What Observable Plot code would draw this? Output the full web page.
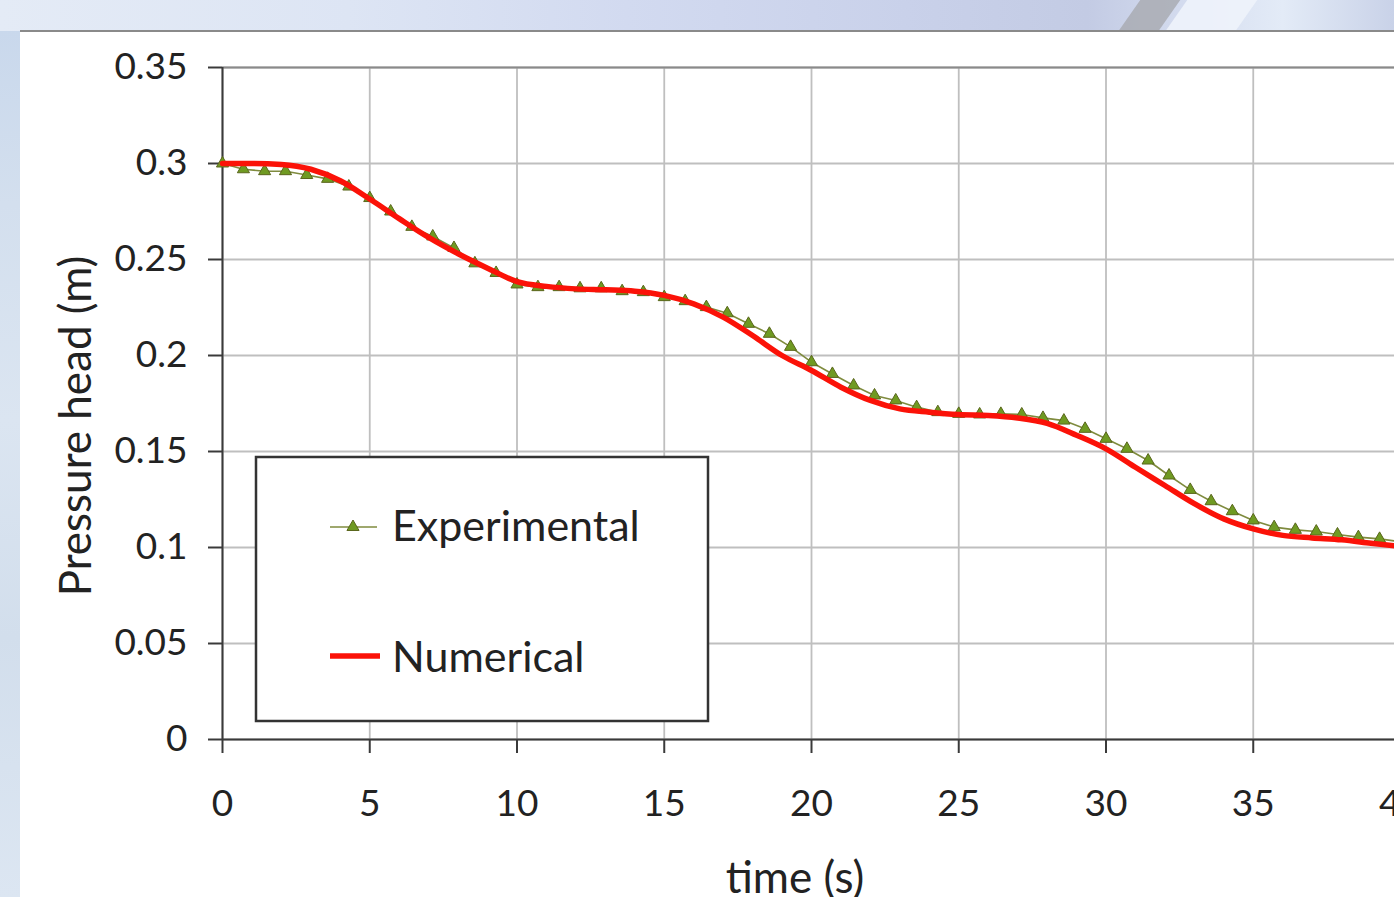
<!DOCTYPE html>
<html>
<head>
<meta charset="utf-8">
<script src="https://cdn.jsdelivr.net/npm/d3@7"></script>
<script src="https://cdn.jsdelivr.net/npm/@observablehq/plot@0.6"></script>
<style>
  html, body { margin: 0; padding: 0; }
  body { width: 1394px; height: 897px; overflow: hidden; position: relative; background: #ffffff; font-family: Lato, "Open Sans", sans-serif; }
  #topband { position: absolute; left: 0; top: 0; width: 1394px; height: 31px;
    background: linear-gradient(90deg, #e4ebf6 0%, #dde5f4 25%, #d2daf0 45%, #c9d1ea 65%, #c3cbe4 78%, #d6def0 86%, #e3ebf7 92%, #c9d2e8 100%); overflow: hidden; }
  #stripe { position: absolute; left: 1128px; top: -5px; width: 40px; height: 45px; background: #a9acb3; transform: skewX(-35deg); opacity: 0.85; }
  #stripe2 { position: absolute; left: 1175px; top: -5px; width: 70px; height: 45px; background: #eef3fb; transform: skewX(-35deg); opacity: 0.9; }
  #leftstrip { position: absolute; left: 0; top: 31px; width: 20px; height: 866px;
    background: linear-gradient(180deg, #c9d8ec 0%, #d3dfee 20%, #dbe5f1 45%, #d2deec 70%, #dce6f2 100%); }
  #topline { position: absolute; left: 20px; top: 30px; width: 1374px; height: 2px; background: #8a8a8a; }
  #chart { position: absolute; left: 0; top: 0; }
</style>
</head>
<body>
<div id="topband"><div id="stripe"></div><div id="stripe2"></div></div>
<div id="leftstrip"></div>
<div id="topline"></div>
<div id="chart"></div>
<script>
// ---- Data ----
const xTicks = [0, 5, 10, 15, 20, 25, 30, 35, 40];
const xTickLabels = ["0", "5", "10", "15", "20", "25", "30", "35", "40"];
const yTicks = [0, 0.05, 0.1, 0.15, 0.2, 0.25, 0.3, 0.35];
const yTickLabels = ["0", "0.05", "0.1", "0.15", "0.2", "0.25", "0.3", "0.35"];

const seriesNames = ["Experimental", "Numerical"];

const expTime = [0, 0.71, 1.43, 2.14, 2.86, 3.57, 4.29, 5.00, 5.71, 6.43, 7.14, 7.86, 8.57, 9.29,
  10.00, 10.71, 11.43, 12.14, 12.86, 13.57, 14.29, 15.00, 15.71, 16.43, 17.14, 17.86, 18.57, 19.29,
  20.00, 20.71, 21.43, 22.14, 22.86, 23.57, 24.29, 25.00, 25.71, 26.43, 27.14, 27.86, 28.57, 29.29,
  30.00, 30.71, 31.43, 32.14, 32.86, 33.57, 34.29, 35.00, 35.71, 36.43, 37.14, 37.86, 38.57, 39.29, 40.00];
const expHead = [0.300, 0.297, 0.296, 0.296, 0.294, 0.292, 0.288, 0.282, 0.275, 0.267, 0.262, 0.256, 0.248, 0.243,
  0.237, 0.2356, 0.2356, 0.235, 0.235, 0.2335, 0.233, 0.2304, 0.2283, 0.2252, 0.222, 0.2165, 0.2113, 0.2045,
  0.1965, 0.1904, 0.1844, 0.1792, 0.1766, 0.1731, 0.1705, 0.1696, 0.1693, 0.1696, 0.1693, 0.1675, 0.1661, 0.1618,
  0.1566, 0.1514, 0.1453, 0.1375, 0.1300, 0.1241, 0.1189, 0.1141, 0.1106, 0.1092, 0.1083, 0.1068, 0.1054, 0.1045, 0.1030];

const numTime = [0, 1, 2, 3, 4, 5, 6, 7, 8, 9, 10, 11, 12, 13, 14, 15, 16, 17, 18, 19, 20,
  21, 22, 23, 24, 25, 26, 27, 28, 29, 30, 31, 32, 33, 34, 35, 36, 37, 38, 39, 40];
const numHead = [0.300, 0.300, 0.2995, 0.297, 0.291, 0.2815, 0.2713, 0.2615, 0.253, 0.2455, 0.2385,
  0.236, 0.2347, 0.2342, 0.2335, 0.2313, 0.2269, 0.220, 0.2104, 0.200, 0.1922,
  0.1835, 0.1766, 0.1722, 0.1705, 0.1693, 0.1688, 0.1675, 0.1647, 0.1585, 0.1514,
  0.1418, 0.1323, 0.1228, 0.1149, 0.1097, 0.1063, 0.105, 0.104, 0.1022, 0.1005];

const expData = expTime.map((t, i) => ({t, h: expHead[i]}));
const numData = numTime.map((t, i) => ({t, h: numHead[i]}));

const FONT = "Lato, 'Open Sans', sans-serif";
const expLine = "#7f8b3e", expFill = "#6f9a22", expStroke = "#5a661c", numColor = "#fb1208";

const chart = Plot.plot({
  width: 1394,
  height: 897,
  marginLeft: 222,
  marginRight: -6,
  marginTop: 67,
  marginBottom: 158,
  style: {background: "transparent", fontFamily: FONT, color: "#222", overflow: "hidden"},
  x: {domain: [0, 40]},
  y: {domain: [0, 0.35]},
  marks: [
    Plot.gridX(xTicks, {stroke: "#bfbfbf", strokeOpacity: 1, strokeWidth: 1.8}),
    Plot.gridY(yTicks, {stroke: "#bfbfbf", strokeOpacity: 1, strokeWidth: 1.8}),
    Plot.ruleY([0.35], {stroke: "#8a8a8a", strokeWidth: 2}),
    Plot.ruleY([0], {stroke: "#3a3a3a", strokeWidth: 2}),
    Plot.ruleX([0], {stroke: "#3a3a3a", strokeWidth: 2}),
    Plot.axisX(xTicks, {tickSize: 14, tickPadding: 36, fontSize: 37, stroke: "#3a3a3a", strokeWidth: 2,
      label: null, tickFormat: d => xTickLabels[xTicks.indexOf(d)]}),
    Plot.axisY(yTicks, {tickSize: 14, tickPadding: 21, fontSize: 37, stroke: "#3a3a3a", strokeWidth: 2,
      label: null, tickFormat: d => yTickLabels[yTicks.indexOf(d)]}),
    Plot.line(expData, {x: "t", y: "h", stroke: expLine, strokeWidth: 1.6}),
    Plot.dot(expData, {x: "t", y: "h", symbol: "triangle", r: 4.5, fill: expFill, stroke: expStroke, strokeWidth: 1}),
    Plot.line(numData, {x: "t", y: "h", stroke: numColor, strokeWidth: 5.5, curve: "monotone-x"})
  ]
});
document.getElementById("chart").appendChild(chart);

// ---- Axis titles and legend (text kept as real SVG text) ----
const svg = d3.select(chart);
svg.append("text")
  .attr("x", 795).attr("y", 893)
  .attr("text-anchor", "middle")
  .attr("font-family", FONT).attr("font-size", 44).attr("fill", "#222")
  .text("time (s)");
svg.append("text")
  .attr("transform", "translate(91,426) rotate(-90)")
  .attr("text-anchor", "middle")
  .attr("font-family", FONT).attr("font-size", 44).attr("fill", "#222")
  .text("Pressure head (m)");

const lg = svg.append("g").attr("text-anchor", "start");
lg.append("rect").attr("x", 256).attr("y", 457).attr("width", 452).attr("height", 264)
  .attr("fill", "#fff").attr("stroke", "#333").attr("stroke-width", 2.5);
lg.append("line").attr("x1", 330).attr("x2", 377).attr("y1", 527).attr("y2", 527)
  .attr("stroke", expLine).attr("stroke-width", 1.6);
lg.append("path").attr("d", d3.symbol(d3.symbolTriangle, Math.PI * 4.5 * 4.5)())
  .attr("transform", "translate(353,527)").attr("fill", expFill).attr("stroke", expStroke);
lg.append("text").attr("x", 392).attr("y", 541).attr("text-anchor", "start")
  .attr("font-family", FONT).attr("font-size", 43).attr("fill", "#222").text(seriesNames[0]);
lg.append("line").attr("x1", 330).attr("x2", 380).attr("y1", 656).attr("y2", 656)
  .attr("stroke", numColor).attr("stroke-width", 5.5);
lg.append("text").attr("x", 392).attr("y", 672).attr("text-anchor", "start")
  .attr("font-family", FONT).attr("font-size", 43).attr("fill", "#222").text(seriesNames[1]);
</script>
</body>
</html>
